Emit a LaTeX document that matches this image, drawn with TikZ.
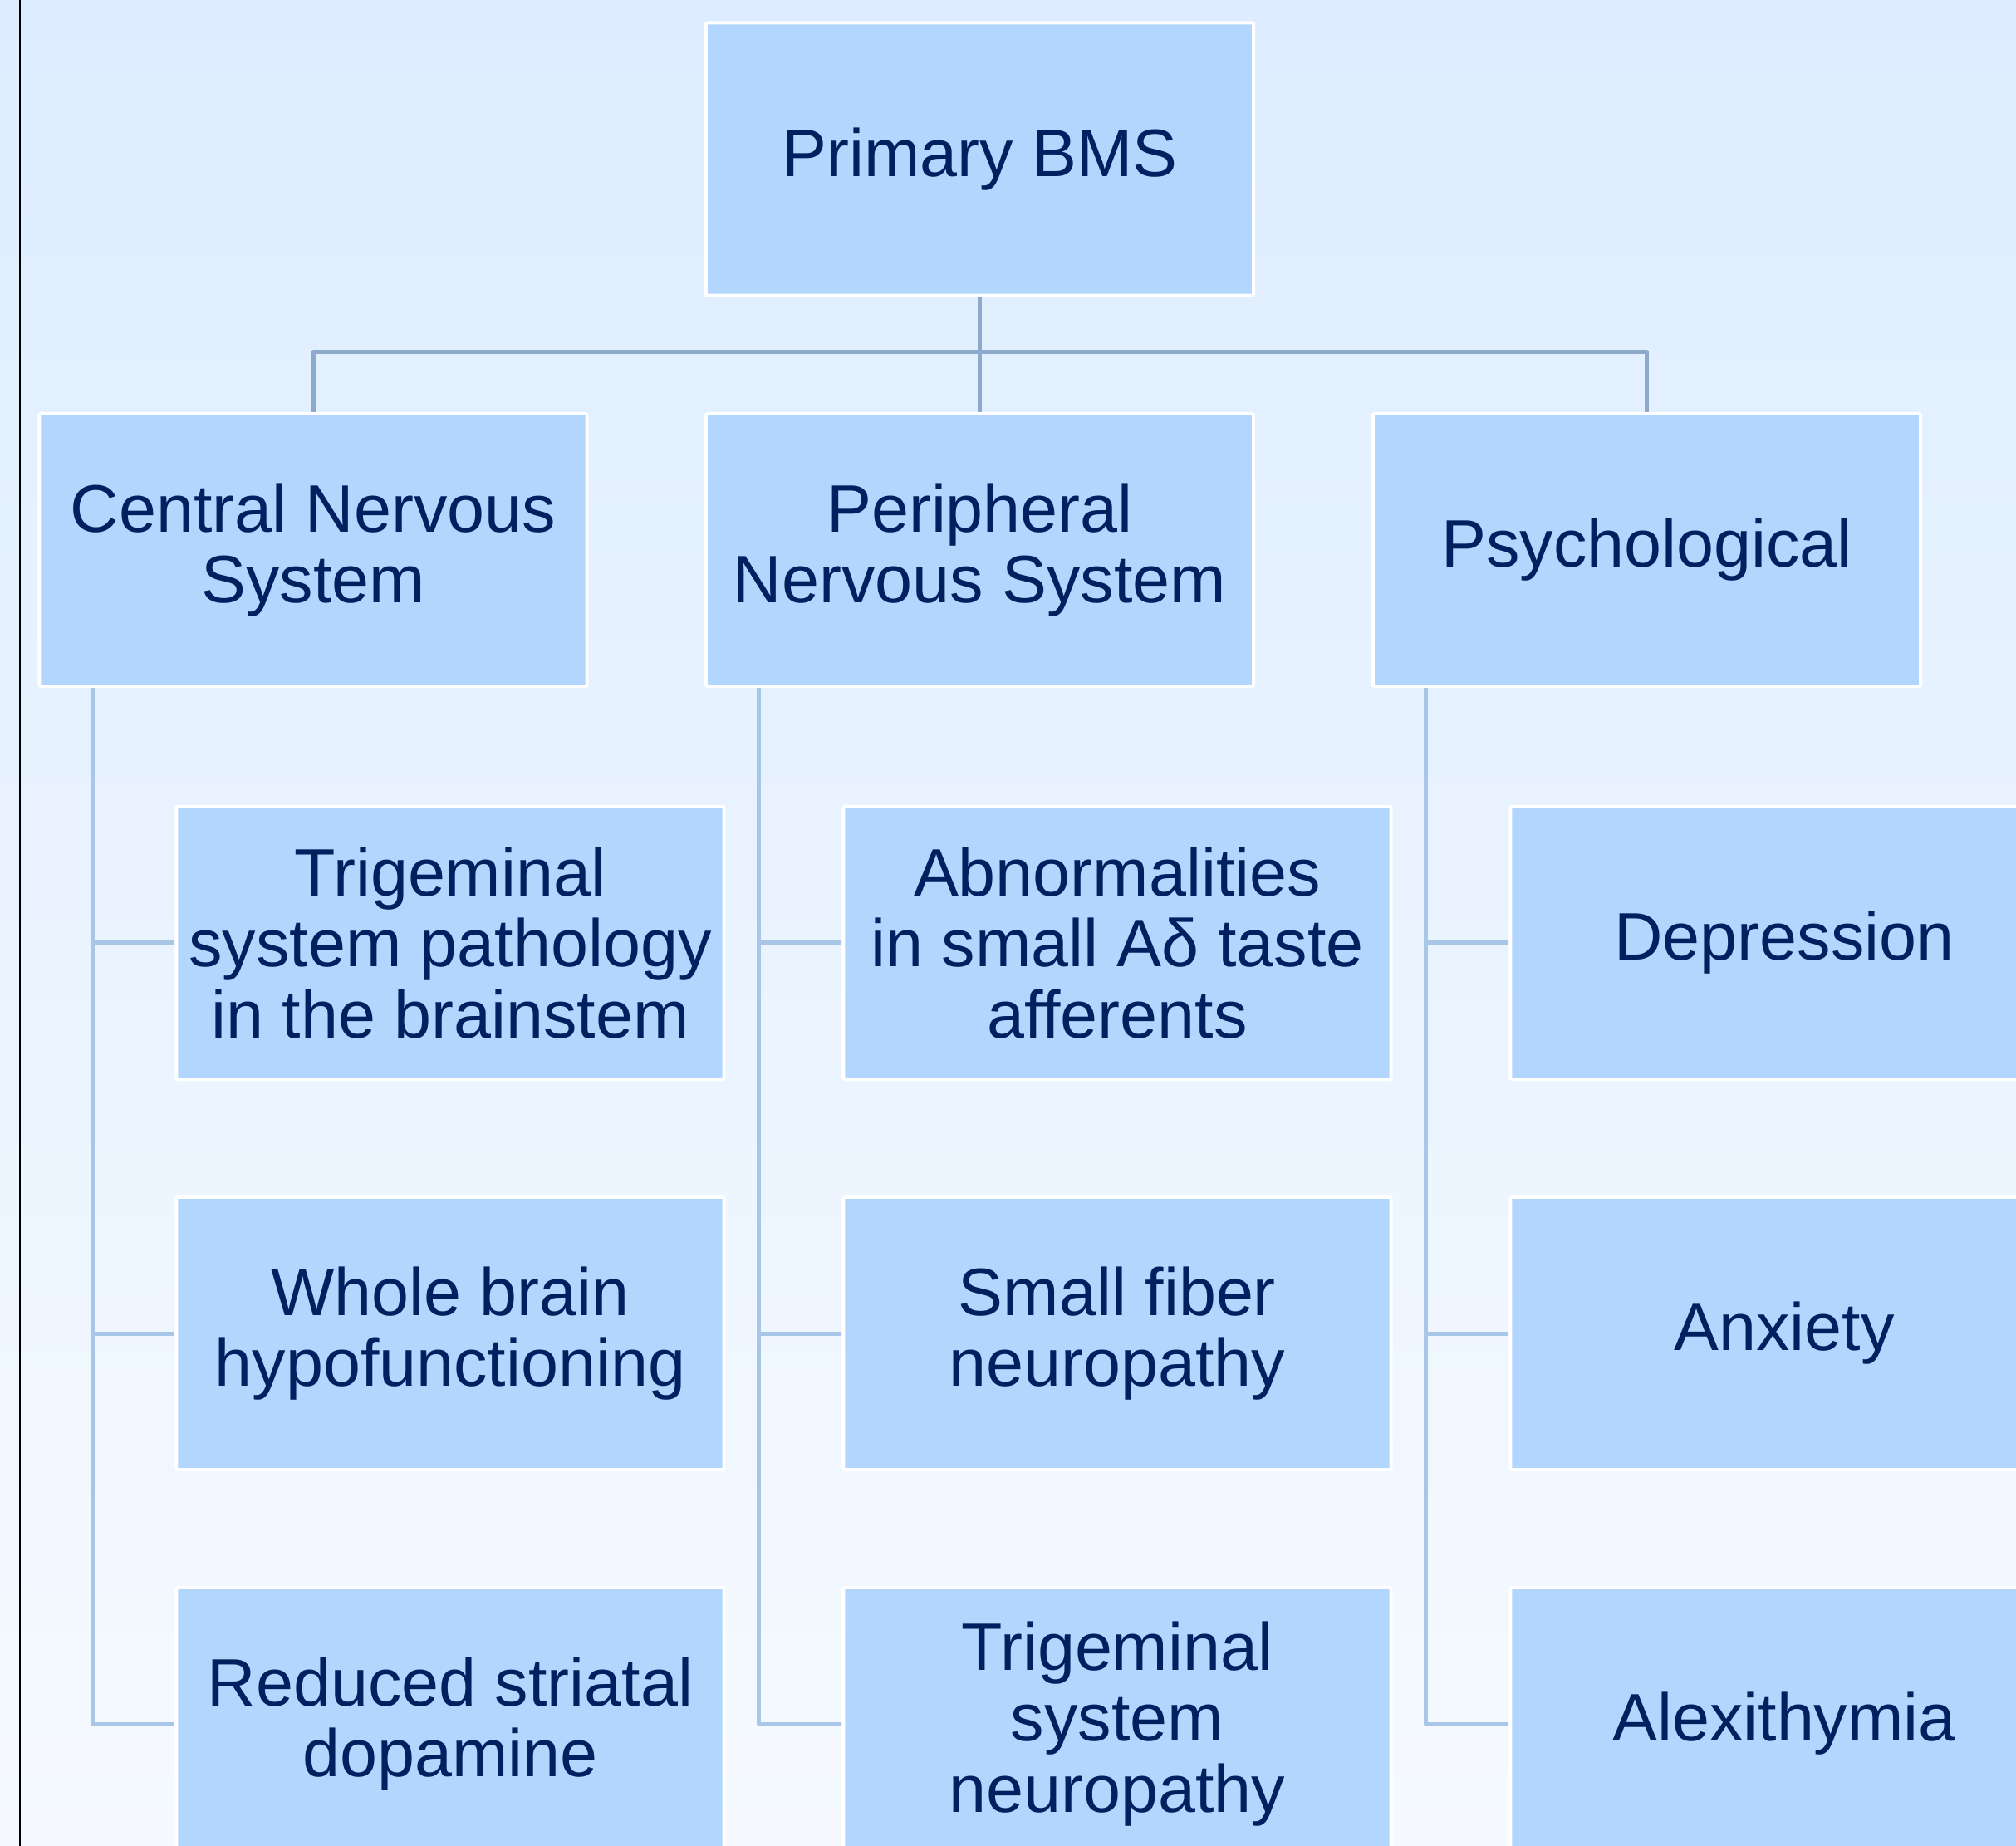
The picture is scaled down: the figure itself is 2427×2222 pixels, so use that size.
\documentclass[tikz,border=0pt]{standalone}
\usepackage{fontspec}
\setmainfont{Liberation Sans}
\definecolor{bgtop}{RGB}{221,237,255}
\definecolor{bgbot}{RGB}{246,250,255}
\definecolor{boxfill}{RGB}{178,214,253}
\definecolor{txt}{RGB}{0,32,96}
\definecolor{topcol}{RGB}{141,170,204}
\definecolor{subcol}{RGB}{168,198,232}
\begin{document}
\begin{tikzpicture}[x=0.01cm,y=-0.01cm,
  box/.style={draw=white, line width=0.04cm, fill=boxfill, minimum width=6.59cm,
    minimum height=3.28cm, inner sep=0pt, align=center, text=txt,
    font=\fontsize{23}{24.4}\selectfont, rounded corners=0.02cm},
  topline/.style={draw=topcol, line width=0.05cm, line join=round},
  subline/.style={draw=subcol, line width=0.05cm, line join=round}]
\useasboundingbox (0,0) rectangle (2427,2222);
\clip (0,0) rectangle (2427,2222);
\shade[top color=bgtop, bottom color=bgbot] (0,0) rectangle (2427,2222);
\draw[black, line width=0.025cm] (24,0) -- (24,2222);

\node[box] (top) at (1179.5,191.5) {Primary BMS};
\node[box] (cns) at (377,662) {Central Nervous\\System};
\node[box] (pns) at (1179.5,662) {Peripheral\\Nervous System};
\node[box] (psy) at (1982.5,662) {Psychological};

\node[box] (c1) at (542,1135) {Trigeminal\\system pathology\\in the brainstem};
\node[box] (c2) at (542,1605) {Whole brain\\hypofunctioning};
\node[box] (c3) at (542,2075) {Reduced striatal\\dopamine};

\node[box] (p1) at (1345,1135) {Abnormalities\\in small Aδ taste\\afferents};
\node[box] (p2) at (1345,1605) {Small fiber\\neuropathy};
\node[box] (p3) at (1345,2075) {Trigeminal\\system\\neuropathy};

\node[box] (s1) at (2148,1135) {Depression};
\node[box] (s2) at (2148,1605) {Anxiety};
\node[box] (s3) at (2148,2075) {Alexithymia};

\coordinate (j) at (1179.5,424);
\draw[topline] (top.south) -- (j);
\draw[topline] (cns.north) |- (j) -| (psy.north);
\draw[topline] (j) -- (pns.north);

\foreach \p/\a/\b/\c in {cns/c1/c2/c3, pns/p1/p2/p3, psy/s1/s2/s3}{
  \draw[subline] ([xshift=0.66cm]\p.south west) |- (\a.west);
  \draw[subline] ([xshift=0.66cm]\p.south west) |- (\b.west);
  \draw[subline] ([xshift=0.66cm]\p.south west) |- (\c.west);
}
\end{tikzpicture}
\end{document}
